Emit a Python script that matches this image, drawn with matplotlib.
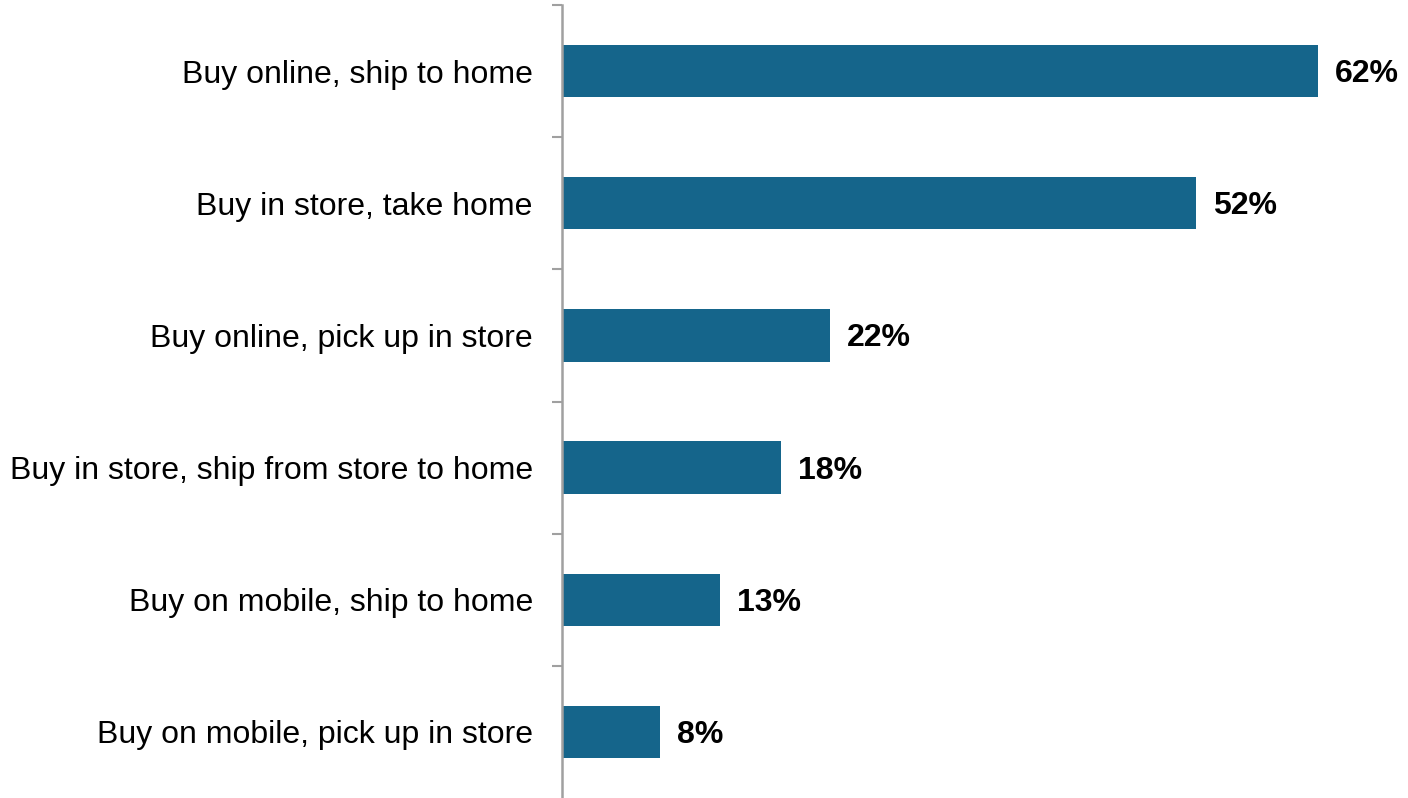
import numpy as np
import matplotlib.pyplot as plt

plt.rcParams['font.family'] = ['Liberation Sans', 'DejaVu Sans']

categories = [
    'Buy online, ship to home',
    'Buy in store, take home',
    'Buy online, pick up in store',
    'Buy in store, ship from store to home',
    'Buy on mobile, ship to home',
    'Buy on mobile, pick up in store',
]
values = [62, 52, 22, 18, 13, 8]

bar_color = '#15658b'
spine_color = '#a0a0a0'

fig = plt.figure(figsize=(14.08, 7.98), dpi=100)
ax = fig.add_axes([562 / 1408, 0.0, 1 - 562 / 1408, 1 - 5 / 798])

y = np.arange(len(categories))
ax.barh(y, values, height=0.395, color=bar_color)

for yi, v in zip(y, values):
    ax.annotate('{}%'.format(v), xy=(v, yi), xytext=(17, -3), textcoords='offset pixels',
                va='center', ha='left', fontsize=23, fontweight='bold', color='black')

ax.set_ylim(len(categories) - 0.5, -0.5)
ax.set_xlim(0, (1408 - 562) / 12.19)

# category labels on major ticks, separators on minor ticks
ax.set_yticks(y)
ax.set_yticklabels(categories, fontsize=23)
ax.tick_params(axis='y', which='major', length=0, pad=21)
ax.set_yticks(np.arange(-0.5, len(categories) - 1, 1.0), minor=True)
ax.tick_params(axis='y', which='minor', length=7, width=1.5, color=spine_color)

ax.set_xticks([])
for side in ['top', 'right', 'bottom']:
    ax.spines[side].set_visible(False)
ax.spines['left'].set_color(spine_color)
ax.spines['left'].set_linewidth(1.8)

fig.savefig('out.png', dpi=100)
